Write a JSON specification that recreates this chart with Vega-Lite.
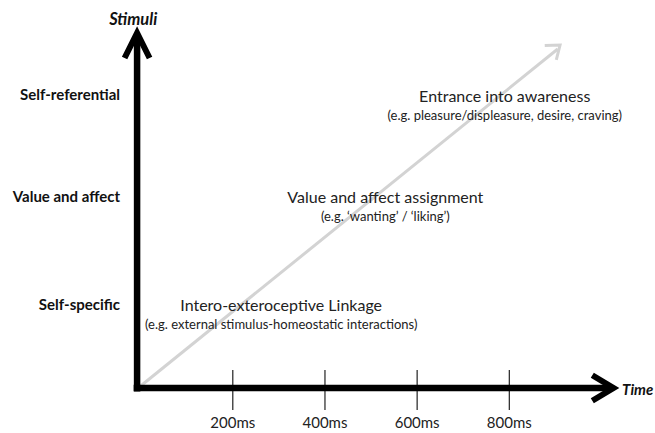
{
  "$schema": "https://vega.github.io/schema/vega-lite/v6.json",
  "width": 655,
  "height": 433,
  "autosize": {"type": "fit", "contains": "padding"},
  "padding": 0,
  "background": "white",
  "config": {"view": {"stroke": null}, "font": "Lato"},
  "datasets": {
    "axes": [
      {"axis": "Stimuli", "t": -7.6, "v": -0.035, "t_end": -7.6, "v_end": 3.53},
      {"axis": "Time", "t": -15, "v": 0, "t_end": 1020, "v_end": 0}
    ],
    "tips": [
      {"axis": "Stimuli", "t": -7.6, "v": 3.55},
      {"axis": "Time", "t": 1026, "v": 0},
      {"axis": "Trend", "t": 910, "v": 3.43}
    ],
    "titles": [
      {"axis": "Stimuli", "t": -16, "v": 3.68},
      {"axis": "Time", "t": 1044.5, "v": -0.02}
    ],
    "trend": [
      {"t": 0, "v": 0.02, "t_end": 905, "v_end": 3.39}
    ],
    "levels": [
      {"level": "Self-referential", "t": -44.5, "v": 2.93},
      {"level": "Value and affect", "t": -44.5, "v": 1.91},
      {"level": "Self-specific", "t": -44.5, "v": 0.83}
    ],
    "ticks": [
      {"t": 200, "label": "200ms"},
      {"t": 400, "label": "400ms"},
      {"t": 600, "label": "600ms"},
      {"t": 800, "label": "800ms"}
    ],
    "stages": [
      {"stage": "Intero-exteroceptive Linkage", "example": "(e.g. external stimulus-homeostatic interactions)", "t": 305, "v": 0.82},
      {"stage": "Value and affect assignment", "example": "(e.g. ‘wanting’ / ‘liking’)", "t": 531, "v": 1.9},
      {"stage": "Entrance into awareness", "example": "(e.g. pleasure/displeasure, desire, craving)", "t": 790, "v": 2.91}
    ]
  },
  "layer": [
    {
      "data": {"name": "trend"},
      "mark": {"type": "rule", "color": "#d3d3d3", "strokeWidth": 3, "clip": false},
      "encoding": {
        "x": {"field": "t", "type": "quantitative", "scale": {"domain": [-305, 1116], "nice": false, "zero": false}, "axis": null},
        "y": {"field": "v", "type": "quantitative", "scale": {"domain": [-0.45, 3.88], "nice": false, "zero": false}, "axis": null},
        "x2": {"field": "t_end"},
        "y2": {"field": "v_end"}
      }
    },
    {
      "data": {"name": "tips"},
      "transform": [{"filter": "datum.axis === 'Trend'"}],
      "mark": {"type": "point", "shape": "M -0.75 1 L 0 0 L 0.75 1", "filled": false, "stroke": "#d3d3d3", "strokeWidth": 3, "opacity": 1, "size": 600, "angle": 51, "strokeJoin": "miter"},
      "encoding": {
        "x": {"field": "t", "type": "quantitative"},
        "y": {"field": "v", "type": "quantitative"}
      }
    },
    {
      "data": {"name": "ticks"},
      "mark": {"type": "rule", "color": "#333333", "strokeWidth": 1.3},
      "encoding": {
        "x": {"field": "t", "type": "quantitative"},
        "y": {"datum": 0.18, "type": "quantitative"},
        "y2": {"datum": -0.22}
      }
    },
    {
      "data": {"name": "ticks"},
      "mark": {"type": "text", "fontSize": 15, "color": "#222222", "baseline": "middle", "align": "center"},
      "encoding": {
        "x": {"field": "t", "type": "quantitative"},
        "y": {"datum": -0.35, "type": "quantitative"},
        "text": {"field": "label"}
      }
    },
    {
      "data": {"name": "axes"},
      "mark": {"type": "rule", "color": "black", "strokeWidth": 6.5, "strokeCap": "butt"},
      "encoding": {
        "x": {"field": "t", "type": "quantitative"},
        "y": {"field": "v", "type": "quantitative"},
        "x2": {"field": "t_end"},
        "y2": {"field": "v_end"}
      }
    },
    {
      "data": {"name": "tips"},
      "transform": [{"filter": "datum.axis === 'Stimuli'"}],
      "mark": {"type": "point", "shape": "M -0.5 1 L 0 0 L 0.5 1", "filled": false, "stroke": "black", "strokeWidth": 6, "opacity": 1, "size": 2500, "angle": 0, "strokeJoin": "miter"},
      "encoding": {
        "x": {"field": "t", "type": "quantitative"},
        "y": {"field": "v", "type": "quantitative"}
      }
    },
    {
      "data": {"name": "tips"},
      "transform": [{"filter": "datum.axis === 'Time'"}],
      "mark": {"type": "point", "shape": "M -0.6 1 L 0 0 L 0.6 1", "filled": false, "stroke": "black", "strokeWidth": 6, "opacity": 1, "size": 1800, "angle": 90, "strokeJoin": "miter"},
      "encoding": {
        "x": {"field": "t", "type": "quantitative"},
        "y": {"field": "v", "type": "quantitative"}
      }
    },
    {
      "data": {"name": "titles"},
      "transform": [{"filter": "datum.axis === 'Stimuli'"}],
      "mark": {"type": "text", "fontSize": 16.5, "fontWeight": "bold", "fontStyle": "italic", "color": "#111111", "align": "center", "baseline": "middle"},
      "encoding": {
        "x": {"field": "t", "type": "quantitative"},
        "y": {"field": "v", "type": "quantitative"},
        "text": {"field": "axis"}
      }
    },
    {
      "data": {"name": "titles"},
      "transform": [{"filter": "datum.axis === 'Time'"}],
      "mark": {"type": "text", "fontSize": 15, "fontWeight": "bold", "fontStyle": "italic", "color": "#111111", "align": "left", "baseline": "middle"},
      "encoding": {
        "x": {"field": "t", "type": "quantitative"},
        "y": {"field": "v", "type": "quantitative"},
        "text": {"field": "axis"}
      }
    },
    {
      "data": {"name": "levels"},
      "mark": {"type": "text", "fontSize": 15, "fontWeight": "bold", "color": "#111111", "align": "right", "baseline": "middle"},
      "encoding": {
        "x": {"field": "t", "type": "quantitative"},
        "y": {"field": "v", "type": "quantitative"},
        "text": {"field": "level"}
      }
    },
    {
      "data": {"name": "stages"},
      "mark": {"type": "text", "fontSize": 16, "color": "#222222", "align": "center", "baseline": "middle"},
      "encoding": {
        "x": {"field": "t", "type": "quantitative"},
        "y": {"field": "v", "type": "quantitative"},
        "text": {"field": "stage"}
      }
    },
    {
      "data": {"name": "stages"},
      "mark": {"type": "text", "fontSize": 13, "color": "#222222", "align": "center", "baseline": "middle", "dy": 19},
      "encoding": {
        "x": {"field": "t", "type": "quantitative"},
        "y": {"field": "v", "type": "quantitative"},
        "text": {"field": "example"}
      }
    }
  ]
}
